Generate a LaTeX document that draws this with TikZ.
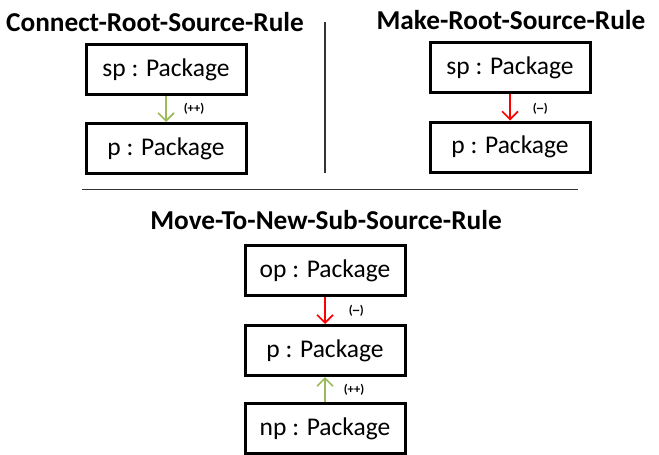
\documentclass[tikz,border=0pt]{standalone}
\usepackage{fontspec}
\setmainfont{Carlito}
\usetikzlibrary{arrows.meta}
\definecolor{addgreen}{HTML}{9BBB59}
\definecolor{delred}{HTML}{FF0000}
\tikzset{
  obj/.style={draw=black, line width=3pt, minimum width=160pt, minimum height=50pt, inner sep=0pt, font=\fontsize{25.5}{30}\selectfont},
  ttl/.style={font=\fontsize{27.3}{32}\selectfont\bfseries, inner sep=0pt},
  lbl/.style={font=\fontsize{12.5}{15}\selectfont\bfseries, inner sep=0pt},
  addarrow/.style={draw=addgreen, line width=1.6pt, -{Straight Barb[length=8pt,width=16pt,line width=1.6pt]}},
  delarrow/.style={draw=delred, line width=1.6pt, -{Straight Barb[length=8pt,width=16pt,line width=1.6pt]}},
  divider/.style={draw=black!80, line width=1.3pt}
}
\newcommand{\dbldash}{(-\kern-0.6pt-)}
\begin{document}
\begin{tikzpicture}[x=1pt,y=-1pt]
\useasboundingbox (0,0) rectangle (659,455);
% left rule
\node[ttl] (t1) at (155,22) {Connect-Root-Source-Rule};
\node[obj] (sp1) at (166,69.5) {sp : Package};
\node[obj] (p1) at (166,148.5) {p : Package};
\draw[addarrow] (sp1) -- (p1) node[lbl, pos=0.5, right=17pt] (l1) {(++)};
% right rule
\node[ttl] (t2) at (511,20) {Make-Root-Source-Rule};
\node[obj] (sp2) at (510,67.5) {sp : Package};
\node[obj] (p2) at (510,147) {p : Package};
\draw[delarrow] (sp2) -- (p2) node[lbl, pos=0.55, right=22pt] (l2) {\dbldash};
% dividers
\coordinate (v1) at (325,22);
\coordinate (v2) at (325,173);
\draw[divider] (v1) -- (v2);
\coordinate (h1) at (82,189.5);
\coordinate (h2) at (578,189.5);
\draw[divider] (h1) -- (h2);
% bottom rule
\node[ttl] (t3) at (326,220) {Move-To-New-Sub-Source-Rule};
\node[obj] (op3) at (325,270.5) {op : Package};
\node[obj] (p3) at (325,350.5) {p : Package};
\node[obj] (np3) at (325,428.5) {np : Package};
\draw[delarrow] (op3) -- (p3) node[lbl, pos=0.5, right=23pt] (l3) {\dbldash};
\draw[addarrow] (np3) -- (p3) node[lbl, pos=0.5, right=18pt] (l4) {(++)};
\end{tikzpicture}
\end{document}
